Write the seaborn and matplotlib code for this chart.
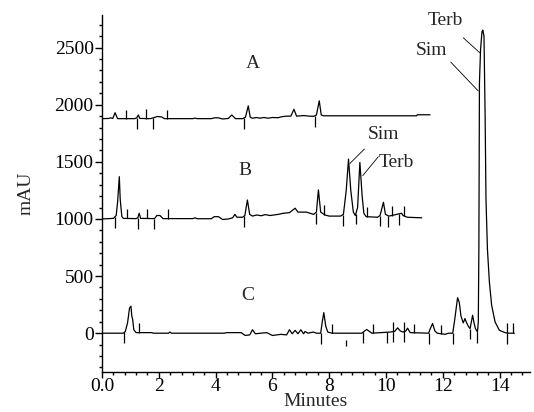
"""
    Chromatogram of three samples (A, B, C) with Sim / Terb peaks,
    drawn as stacked traces with integration event marks.
"""

import numpy as np
import pandas as pd
import matplotlib
matplotlib.use("Agg")
import matplotlib.pyplot as plt
from matplotlib.ticker import MultipleLocator
import seaborn as sns

# trace A (offset ~1880 mAU)
a_time = [0.0, 0.25, 0.3, 0.38, 0.46, 0.55, 0.75, 1.15, 1.22, 1.28, 1.33, 1.7, 1.87, 1.95,
          2.1, 2.2, 3.2, 3.27, 3.35, 3.85, 3.95, 4.1, 4.25, 4.45, 4.57, 4.7, 4.95, 5.05,
          5.15, 5.22, 5.3, 5.45, 5.55, 5.7, 5.85, 6.0, 6.2, 6.33, 6.5, 6.65, 6.76, 6.85,
          7.1, 7.3, 7.45, 7.55, 7.65, 7.72, 7.8, 7.96, 11.08, 11.1, 11.55]
a_mau = [1878, 1880, 1885, 1880, 1930, 1878, 1878, 1878, 1885, 1910, 1880, 1878, 1890, 1897,
         1893, 1878, 1878, 1883, 1878, 1878, 1885, 1885, 1875, 1880, 1910, 1878, 1878, 1890,
         1990, 1890, 1882, 1888, 1882, 1888, 1882, 1888, 1886, 1895, 1900, 1900, 1960, 1900,
         1905, 1900, 1898, 1910, 2034, 1910, 1903, 1903, 1903, 1912, 1912]

# trace B (offset ~1000 mAU)
b_time = [0.0, 0.4, 0.5, 0.55, 0.61, 0.64, 0.66, 0.7, 0.75, 1.2, 1.26, 1.31, 1.36, 1.85,
          1.93, 2.04, 2.15, 3.2, 3.27, 3.35, 3.85, 3.95, 4.1, 4.25, 4.45, 4.6, 4.68, 4.75,
          4.95, 5.03, 5.12, 5.2, 5.3, 5.45, 5.6, 5.75, 5.92, 6.2, 6.39, 6.6, 6.8, 6.9, 7.2,
          7.45, 7.55, 7.62, 7.7, 7.85, 8.0, 8.4, 8.5, 8.6, 8.68, 8.76, 8.85, 8.92, 9.0, 9.08,
          9.16, 9.22, 9.3, 9.7, 9.79, 9.91, 9.98, 10.1, 10.2, 10.55, 10.6, 10.75, 11.26]
b_mau = [1000, 1005, 1030, 1150, 1370, 1180, 1120, 1020, 1005, 1003, 1010, 1050, 1005, 1003,
         1030, 1030, 1003, 1003, 1010, 1002, 1002, 1020, 1020, 995, 1000, 1010, 1040, 1015,
         1015, 1030, 1166, 1040, 1025, 1035, 1028, 1038, 1030, 1040, 1050, 1055, 1094, 1060, 1060,
         1040, 1060, 1254, 1060, 1035, 1025, 1025, 1040, 1250, 1524, 1250, 1060, 1030, 1100, 1495,
         1200, 1050, 1020, 1015, 1030, 1146, 1040, 1025, 1030, 1050, 1030, 1015, 1010]

# trace C (no offset)
c_time = [0.0, 0.75, 0.82, 0.9, 0.97, 1.02, 1.05, 1.08, 1.12, 1.2, 1.75, 1.8, 2.35, 2.39,
          2.45, 4.3, 4.4, 4.9, 5.04, 5.2, 5.3, 5.4, 5.8, 6.0, 6.3, 6.5, 6.6, 6.7, 6.8, 6.9,
          7.0, 7.1, 7.15, 7.25, 7.44, 7.55, 7.7, 7.75, 7.81, 7.88, 7.95, 8.1, 9.15, 9.25, 9.32,
          9.42, 9.5, 10.14, 10.3, 10.41, 10.5, 10.6, 10.7, 10.76, 10.85, 11.5, 11.56, 11.64,
          11.72, 11.8, 12.08, 12.2, 12.35, 12.42, 12.52, 12.58, 12.64, 12.72, 12.78, 12.84,
          12.9, 12.96, 13.05, 13.1, 13.15, 13.22, 13.25, 13.27, 13.29, 13.33, 13.38, 13.41,
          13.45, 13.49, 13.52, 13.57, 13.64, 13.72, 13.84, 13.99, 14.19, 14.3, 14.52]
c_mau = [0, 0, 15, 90, 220, 236, 150, 120, 30, 5, 5, 0, 0, 10,
         0, 0, 5, 5, -20, -15, 30, -5, 5, -20, -10, -15, 30, -5, 25, -5,
         30, -5, 15, 0, 10, 0, 0, 90, 180, 60, 10, 0, 0, 20, 32,
         15, 0, 10, 15, 47, 20, 10, 20, 44, 5, 0, 40, 85,
         20, 0, -10, 0, 0, 120, 311, 270, 150, 90, 128, 90,
         60, 40, 157, 90, 40, 10, 100, 742, 2193, 2485, 2640, 2653,
         2600, 1903, 1178, 742, 448, 244, 99, 26, 5, 0, 0]

# integration event marks: time and signed length (mAU)
a_mark_time = [0.85, 1.22, 1.55, 1.78, 2.28, 5.0, 7.5]
a_mark_len = [80, -95, 80, -95, 80, -95, -95]
b_mark_time = [0.46, 0.87, 1.26, 1.6, 1.83, 2.34, 5.01, 7.52, 7.83, 8.47, 8.94, 9.34,
               9.79, 10.08, 10.2, 10.47, 10.63]
b_mark_len = [-95, 85, -95, 85, -95, 85, -95, -95, 85, -95, -95, 85,
              -95, -95, 85, -95, 85]
c_mark_time = [0.79, 1.31, 7.7, 8.1, 9.2, 9.53, 10.02, 10.26, 10.26, 10.65, 10.65, 11.0,
               11.5, 11.94, 12.35, 12.96, 13.22, 14.27, 14.27, 14.48]
c_mark_len = [-95, 85, -95, 80, -95, 80, -95, -95, 85, -95, 85, 80,
              -95, 80, -95, -95, -95, -95, 85, 85]

trace_names = ["A", "B", "C"]
trace_label_pos = [(5.31, 2359), (5.04, 1422), (5.12, 332)]

# peak labels: text, text position, leader line start, leader line end
peak_labels = [
    ("Sim", (9.91, 1743), (9.24, 1612), (8.73, 1486)),
    ("Terb", (10.38, 1495), (9.73, 1545), (9.18, 1379)),
    ("Terb", (12.08, 2737), (12.72, 2586), (13.33, 2449)),
    ("Sim", (11.61, 2476), (12.28, 2373), (13.25, 2120)),
]

x_tick_labels = ["0.0", "2", "4", "6", "8", "10", "12", "14"]

sns.set_theme(style="ticks")
plt.rcParams["font.family"] = ["Liberation Serif", "DejaVu Serif"]

fig = plt.figure(figsize=(5.34, 4.12), dpi=100)
ax = fig.add_axes([0.191, 0.097, 0.8015, 0.8665])

traces = [(a_time, a_mau, a_mark_time, a_mark_len),
          (b_time, b_mau, b_mark_time, b_mark_len),
          (c_time, c_mau, c_mark_time, c_mark_len)]

for t, v, mt, ml in traces:
    df = pd.DataFrame({"Minutes": t, "mAU": v})
    sns.lineplot(data=df, x="Minutes", y="mAU", ax=ax, color="black", lw=0.9,
                 sort=False, estimator=None)
    base = np.interp(mt, t, v)
    ax.vlines(mt, base, base + np.array(ml), color="black", lw=0.9)

# lonely mark below trace C
ax.vlines([8.58], [-60], [-110], color="black", lw=0.9)

for name, (x, y) in zip(trace_names, trace_label_pos):
    ax.text(x, y, name, fontsize=14, ha="center", va="center")

for txt, (tx, ty), (x0, y0), (x1, y1) in peak_labels:
    ax.text(tx, ty, txt, fontsize=14, ha="center", va="center")
    ax.plot([x0, x1], [y0, y1], color="black", lw=0.6)

ax.set_xlim(0, 15.07)
ax.set_ylim(-340, 2785)
ax.xaxis.set_minor_locator(MultipleLocator(0.4))
ax.yaxis.set_major_locator(MultipleLocator(500))
ax.yaxis.set_minor_locator(MultipleLocator(100))
ax.set_xticks(range(0, 15, 2))
ax.set_xticklabels(x_tick_labels)

sns.despine(ax=ax)
for s in ["left", "bottom"]:
    ax.spines[s].set_linewidth(1.0)
    ax.spines[s].set_color("black")
ax.tick_params(which="major", direction="out", length=5, width=1, labelsize=14,
               pad=1, colors="black")
ax.tick_params(axis="x", which="major", length=4, pad=0)
ax.tick_params(which="minor", direction="out", length=2.5, width=1, colors="black")

ax.set_xlabel("Minutes", fontsize=14, labelpad=-1)
ax.set_ylabel("mAU", fontsize=14, labelpad=14)

fig.savefig("out.png", dpi=100)
plt.close(fig)
